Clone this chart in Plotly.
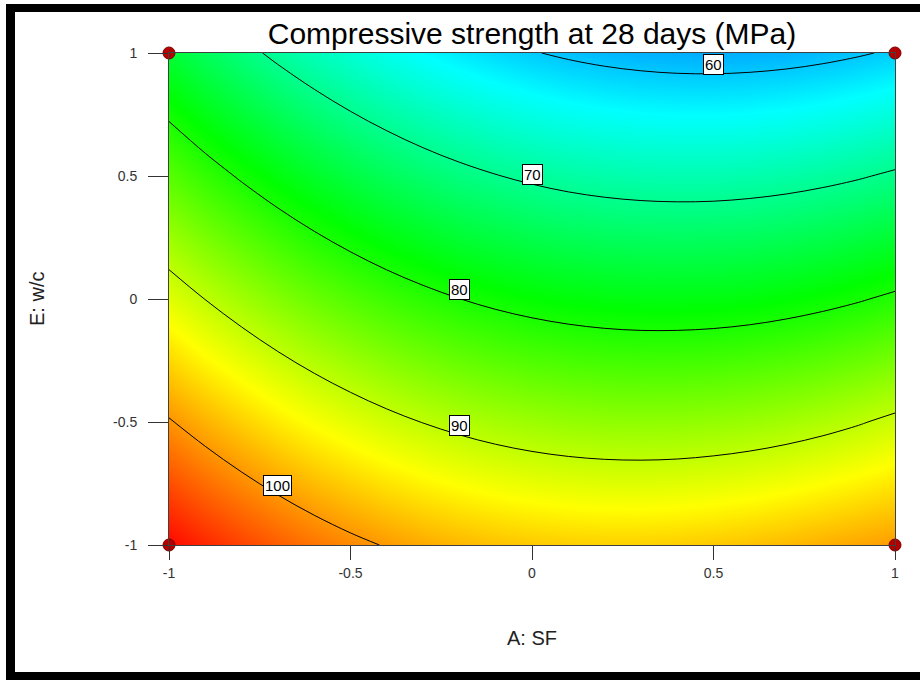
import numpy as np
import plotly.graph_objects as go

# ---------------- data ----------------
sf = [-1.0, -0.9, -0.8, -0.7, -0.6, -0.5, -0.4, -0.3, -0.2, -0.1, 0.0,
      0.1, 0.2, 0.3, 0.4, 0.5, 0.6, 0.7, 0.8, 0.9, 1.0]          # A: SF (coded)
wc = [-1.0, -0.5, 0.0, 0.5, 1.0]                                   # E: w/c (coded)

strength_wc_m1 = [108.58, 106.73, 105.03, 103.49, 102.10, 100.86, 99.78, 98.85, 98.08, 97.46, 97.00,
                  96.69, 96.54, 96.54, 96.69, 97.00, 97.40, 97.90, 98.50, 99.10, 99.70]
strength_wc_m05 = [100.28, 98.34, 96.55, 94.91, 93.43, 92.11, 90.94, 89.92, 89.06, 88.35, 87.80,
                   87.40, 87.15, 87.06, 87.12, 87.34, 87.71, 88.24, 88.92, 89.75, 90.74]
strength_wc_0 = [91.98, 89.95, 88.07, 86.34, 84.77, 83.36, 82.09, 80.99, 80.03, 79.23, 78.59,
                 78.10, 77.76, 77.58, 77.56, 77.68, 77.96, 78.40, 78.99, 79.73, 80.63]
strength_wc_p05 = [83.68, 81.55, 79.59, 77.77, 76.11, 74.60, 73.25, 72.05, 71.01, 70.12, 69.39,
                   68.80, 68.38, 68.11, 67.99, 68.02, 68.22, 68.56, 69.06, 69.71, 70.52]
strength_wc_p1 = [75.38, 73.16, 71.10, 69.20, 67.45, 65.85, 64.41, 63.12, 61.99, 61.01, 60.18,
                  59.51, 58.99, 58.63, 58.42, 58.37, 58.47, 58.72, 59.13, 59.70, 60.41]

contour_levels = [60, 70, 80, 90, 100]
label_sf = [0.5, 0.0, -0.2, -0.2, -0.7]     # where each contour label sits along A: SF

design_sf = [-1, 1, -1, 1]
design_wc = [-1, -1, 1, 1]

tick_vals = [-1, -0.5, 0, 0.5, 1]
tick_text = ["-1", "-0.5", "0", "0.5", "1"]

title_text = "Compressive strength at 28 days (MPa)"
x_title = "A: SF"
y_title = "E: w/c"

# ---------------- figure ----------------
z = np.array([strength_wc_m1, strength_wc_m05, strength_wc_0, strength_wc_p05, strength_wc_p1])

W, H = 920, 680
L, R, T, B = 169, 25, 53, 135
pw, ph = W - L - R, H - T - B

def px_x(px):
    return (px - L) / pw

def px_y(py):
    return (H - B - py) / ph

narrow = "Liberation Sans Narrow, Arial Narrow, Liberation Sans, Arial, sans-serif"

colorscale = [
    [0.0, "rgb(0,0,255)"],
    [0.25, "rgb(0,255,255)"],
    [0.5, "rgb(0,255,0)"],
    [0.75, "rgb(255,255,0)"],
    [1.0, "rgb(255,0,0)"],
]

fig = go.Figure()
fig.add_trace(go.Contour(
    x=sf, y=wc, z=z,
    colorscale=colorscale, zmin=48, zmax=109, showscale=False,
    contours=dict(coloring="heatmap", start=contour_levels[0], end=contour_levels[-1],
                  size=contour_levels[1] - contour_levels[0], showlabels=False),
    line=dict(color="black", width=1, smoothing=1),
    hoverinfo="skip",
))

fig.add_trace(go.Scatter(
    x=design_sf, y=design_wc, mode="markers",
    marker=dict(size=12, color="#b30000", line=dict(color="#7a0000", width=1)),
    cliponaxis=False, hoverinfo="skip", showlegend=False,
))

annotations = []
for lev, lx in zip(contour_levels, label_sf):
    col = z[:, sf.index(lx)]
    ly = float(np.interp(lev, col[::-1], np.array(wc)[::-1]))
    annotations.append(dict(
        x=lx, y=ly, xref="x", yref="y", text=str(lev), showarrow=False,
        xanchor="center", yanchor="bottom", yshift=-1,
        bgcolor="white", bordercolor="black", borderwidth=1, borderpad=1,
        font=dict(family=narrow, size=15, color="black"),
    ))

annotations.append(dict(
    x=0.5, y=px_y(638), xref="paper", yref="paper", text=x_title, showarrow=False,
    xanchor="center", yanchor="middle", font=dict(family=narrow, size=20, color="#222"),
))
annotations.append(dict(
    x=px_x(37), y=0.5, xref="paper", yref="paper", text=y_title, showarrow=False,
    textangle=-90, xanchor="center", yanchor="middle",
    font=dict(family=narrow, size=20, color="#222"),
))

shapes = [
    # white cover for the right margin (no frame on that side)
    dict(type="rect", xref="paper", yref="paper", x0=px_x(905), x1=px_x(921), y0=px_y(672), y1=px_y(12),
         fillcolor="white", line=dict(width=0), layer="above"),
    # black frame (left, top, bottom)
    dict(type="rect", xref="paper", yref="paper", x0=px_x(6), x1=px_x(15), y0=px_y(680), y1=px_y(4),
         fillcolor="black", line=dict(width=0), layer="above"),
    dict(type="rect", xref="paper", yref="paper", x0=px_x(6), x1=px_x(920), y0=px_y(12), y1=px_y(4),
         fillcolor="black", line=dict(width=0), layer="above"),
    dict(type="rect", xref="paper", yref="paper", x0=px_x(6), x1=px_x(920), y0=px_y(680), y1=px_y(672),
         fillcolor="black", line=dict(width=0), layer="above"),
]

axis_common = dict(
    range=[-1, 1], tickmode="array", tickvals=tick_vals, ticktext=tick_text,
    ticks="outside", tickcolor="#333", tickwidth=1,
    showline=True, linecolor="#404040", linewidth=1, mirror=True,
    showgrid=False, zeroline=False,
    tickfont=dict(family=narrow, size=14, color="#333"),
)

fig.update_layout(
    width=W, height=H,
    margin=dict(l=L, r=R, t=T, b=B),
    paper_bgcolor="white", plot_bgcolor="white",
    title=dict(text=title_text, x=(L + pw / 2) / W, xanchor="center",
               y=1 - 33 / H, yanchor="middle",
               font=dict(family=narrow, size=30, color="black")),
    xaxis=dict(axis_common, ticklen=14, ticklabelstandoff=1),
    yaxis=dict(axis_common, ticklen=20, ticklabelstandoff=8),
    annotations=annotations, shapes=shapes, showlegend=False,
)

fig.write_html("out.html")
